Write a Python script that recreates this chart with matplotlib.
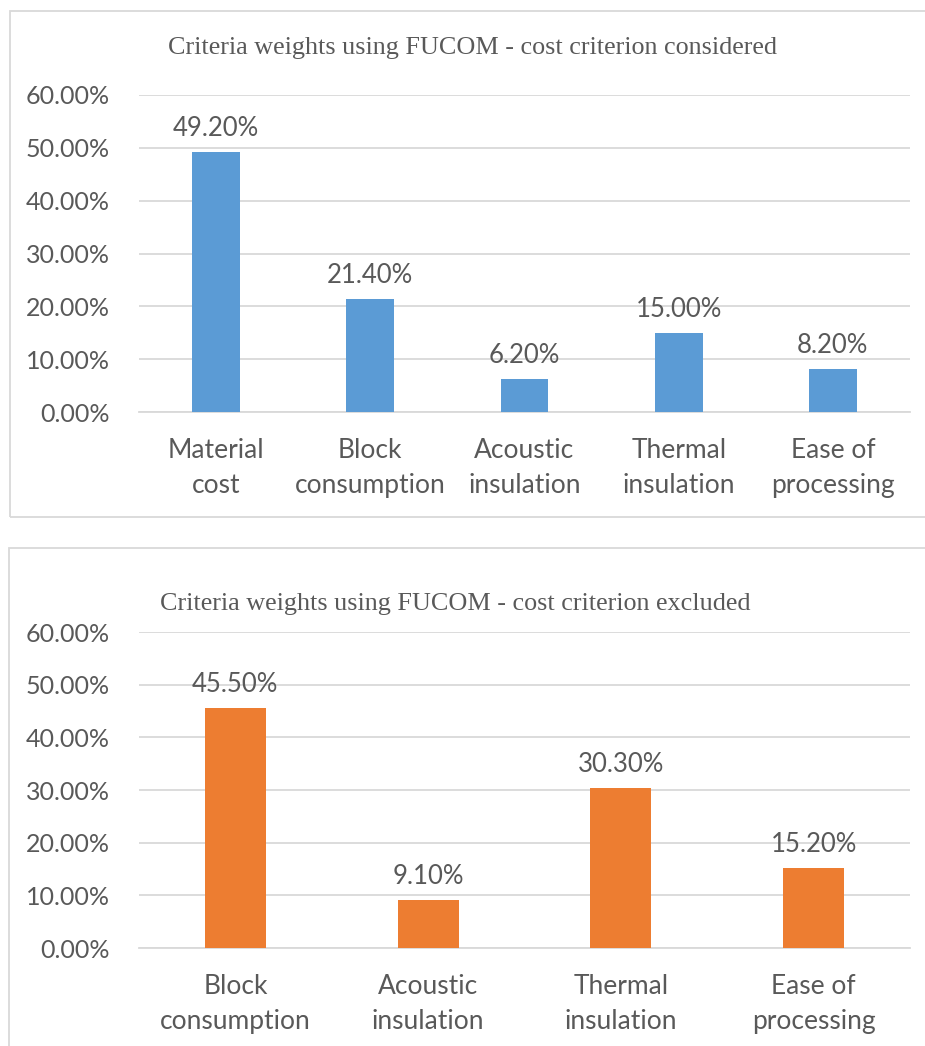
import matplotlib
matplotlib.use("Agg")
import matplotlib.pyplot as plt
from matplotlib.patches import Rectangle
from matplotlib.ticker import FuncFormatter, MultipleLocator

# Criteria weights (percent)
labels_considered = ["Material\ncost", "Block\nconsumption", "Acoustic\ninsulation",
                     "Thermal\ninsulation", "Ease of\nprocessing"]
weights_considered = [49.20, 21.40, 6.20, 15.00, 8.20]

labels_excluded = ["Block\nconsumption", "Acoustic\ninsulation",
                   "Thermal\ninsulation", "Ease of\nprocessing"]
weights_excluded = [45.50, 9.10, 30.30, 15.20]

title_considered = "Criteria weights using FUCOM - cost criterion considered"
title_excluded = "Criteria weights using FUCOM - cost criterion excluded"

W, H = 925, 1046
fig = plt.figure(figsize=(W / 100, H / 100), dpi=100)
fig.patch.set_facecolor("white")

TXT = "#595959"
GRID = "#D9D9D9"
SANS = ["Lato", "DejaVu Sans"]
SERIF = ["Liberation Serif", "DejaVu Serif"]


def fx(px):
    return px / W


def fy(py):
    return 1 - py / H


# Panel frames
fig.patches.append(Rectangle((fx(10), fy(517)), fx(940) - fx(10), fy(11) - fy(517),
                             transform=fig.transFigure, fill=False,
                             edgecolor=GRID, linewidth=1.3))
fig.patches.append(Rectangle((fx(9), fy(1060)), fx(940) - fx(9), fy(548) - fy(1060),
                             transform=fig.transFigure, fill=False,
                             edgecolor=GRID, linewidth=1.3))


def draw(ax, labels, values, color, width):
    x = range(len(values))
    ax.bar(x, values, width=width, color=color, zorder=3)
    ax.set_xlim(-0.5, len(values) - 0.5)
    ax.set_ylim(0, 60)
    ax.yaxis.set_major_locator(MultipleLocator(10))
    ax.yaxis.set_major_formatter(FuncFormatter(lambda v, p: f"{v:.2f}%"))
    ax.grid(axis="y", color=GRID, linewidth=1.3, zorder=0)
    for s in ["top", "right", "left"]:
        ax.spines[s].set_visible(False)
    ax.spines["bottom"].set_color(GRID)
    ax.spines["bottom"].set_linewidth(1.3)
    ax.tick_params(axis="both", length=0, colors=TXT)
    ax.tick_params(axis="y", pad=21, labelsize=18)
    ax.tick_params(axis="x", pad=19, labelsize=19)
    ax.set_xticks(list(x))
    ax.set_xticklabels(labels, fontfamily=SANS, linespacing=1.5)
    for t in ax.get_yticklabels():
        t.set_fontfamily(SANS)
    for xi, v in zip(x, values):
        ax.annotate(f"{v:.2f}%", (xi, v), xytext=(0, 8), textcoords="offset points",
                    ha="center", va="bottom", fontsize=18.5, color=TXT,
                    fontfamily=SANS)


ax1 = fig.add_axes([fx(139), fy(412), fx(910) - fx(139), fy(95) - fy(412)])
draw(ax1, labels_considered, weights_considered, "#5B9BD5", 0.31)
fig.text(fx(473), fy(48), title_considered, ha="center", va="center",
         fontsize=18.8, color=TXT, fontfamily=SERIF)

ax2 = fig.add_axes([fx(139), fy(948), fx(910) - fx(139), fy(632) - fy(948)])
draw(ax2, labels_excluded, weights_excluded, "#ED7D31", 0.316)
fig.text(fx(455), fy(604), title_excluded, ha="center", va="center",
         fontsize=18.8, color=TXT, fontfamily=SERIF)

fig.savefig("out.png", dpi=100, facecolor="white")
